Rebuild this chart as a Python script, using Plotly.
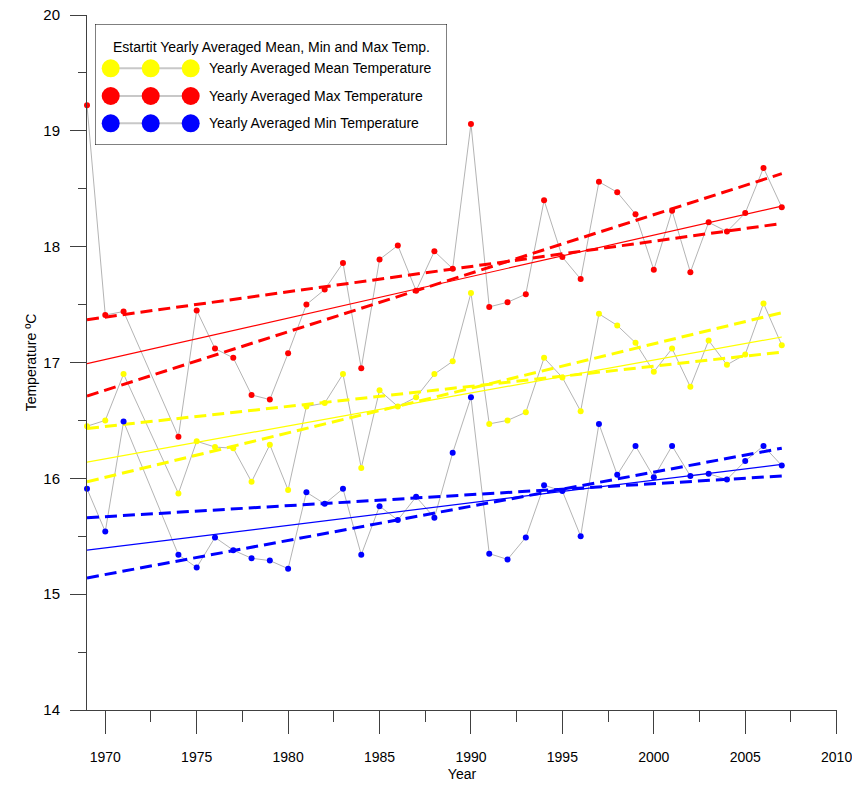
import plotly.graph_objects as go

# ---------------- data ----------------
years = [1969, 1970, 1971, 1974, 1975, 1976, 1977, 1978, 1979, 1980,
         1981, 1982, 1983, 1984, 1985, 1986, 1987, 1988, 1989, 1990,
         1991, 1992, 1993, 1994, 1995, 1996, 1997, 1998, 1999, 2000,
         2001, 2002, 2003, 2004, 2005, 2006, 2007]

mean_temp = [16.45, 16.50, 16.90, 15.87, 16.32, 16.27, 16.26, 15.97, 16.29, 15.90,
             16.62, 16.65, 16.90, 16.09, 16.76, 16.62, 16.70, 16.90, 17.01, 17.60,
             16.47, 16.50, 16.57, 17.04, 16.87, 16.58, 17.42, 17.32, 17.17, 16.92,
             17.12, 16.79, 17.19, 16.98, 17.07, 17.51, 17.15]

max_temp = [19.22, 17.41, 17.44, 16.36, 17.45, 17.12, 17.04, 16.72, 16.68, 17.08,
            17.50, 17.63, 17.86, 16.95, 17.89, 18.01, 17.62, 17.96, 17.81, 19.06,
            17.48, 17.52, 17.59, 18.40, 17.91, 17.72, 18.56, 18.47, 18.28, 17.80,
            18.31, 17.78, 18.21, 18.13, 18.29, 18.68, 18.34]

min_temp = [15.91, 15.54, 16.49, 15.34, 15.23, 15.49, 15.38, 15.31, 15.29, 15.22,
            15.88, 15.78, 15.91, 15.34, 15.76, 15.64, 15.84, 15.66, 16.22, 16.70,
            15.35, 15.30, 15.49, 15.94, 15.89, 15.50, 16.47, 16.03, 16.28, 16.01,
            16.28, 16.02, 16.04, 15.99, 16.15, 16.28, 16.11]

# trend lines (value at first and last year)
fit_years = [1969, 2007]
mean_fit = [16.14, 17.22]
mean_fit_a = [16.43, 17.09]
mean_fit_b = [15.97, 17.43]
max_fit = [16.99, 18.35]
max_fit_a = [17.37, 18.20]
max_fit_b = [16.71, 18.63]
min_fit = [15.38, 16.12]
min_fit_a = [15.66, 16.02]
min_fit_b = [15.14, 16.26]

legend_title = "Estartit Yearly Averaged Mean, Min and Max Temp."
series_names = ["Yearly Averaged Mean Temperature",
                "Yearly Averaged Max Temperature",
                "Yearly Averaged Min Temperature"]
series_colors = ["#FFFF00", "#FF0000", "#0000FF"]

x_ticks = [1970, 1975, 1980, 1985, 1990, 1995, 2000, 2005, 2010]
y_ticks = [14, 15, 16, 17, 18, 19, 20]

# ---------------- figure ----------------
FONT = "Liberation Sans, Arial, sans-serif"
FS = 14
GREY = "#b4b4b4"
AXIS = "#404040"

fig = go.Figure()

series = [(mean_temp, mean_fit, mean_fit_a, mean_fit_b),
          (max_temp, max_fit, max_fit_a, max_fit_b),
          (min_temp, min_fit, min_fit_a, min_fit_b)]

# grey connecting lines
for vals, *_ in series:
    fig.add_trace(go.Scatter(x=years, y=vals, mode="lines",
                             line=dict(color=GREY, width=1),
                             showlegend=False, hoverinfo="skip"))

# trend lines
for (vals, fit, fa, fb), col in zip(series, series_colors):
    fig.add_trace(go.Scatter(x=fit_years, y=fit, mode="lines",
                             line=dict(color=col, width=1.2), showlegend=False))
    for f in (fa, fb):
        fig.add_trace(go.Scatter(x=fit_years, y=f, mode="lines",
                                 line=dict(color=col, width=3, dash="12px,6px"),
                                 showlegend=False))

# markers
for (vals, *_), col, name in zip(series, series_colors, series_names):
    fig.add_trace(go.Scatter(x=years, y=vals, mode="markers", name=name,
                             marker=dict(color=col, size=6, line=dict(width=0)),
                             cliponaxis=False, showlegend=False))

# ---------------- custom legend (on its own hidden axes) ----------------
leg_sample_x = [15.7, 55.7, 95.7]
leg_rows = [44.3, 72.0, 99.3]
for name, col, ry in zip(series_names, series_colors, leg_rows):
    fig.add_trace(go.Scatter(x=leg_sample_x, y=[ry] * 3, mode="lines+markers",
                             xaxis="x2", yaxis="y2",
                             line=dict(color="#c8c8c8", width=2),
                             marker=dict(color=col, size=18, line=dict(width=0)),
                             showlegend=False, hoverinfo="skip"))
    fig.add_annotation(x=111.5, y=ry, xref="x2", yref="y2", text=name,
                       showarrow=False, xanchor="left", yanchor="middle",
                       font=dict(family=FONT, size=FS, color="black"))
fig.add_annotation(x=176, y=22.7, xref="x2", yref="y2", text=legend_title,
                   showarrow=False, xanchor="center", yanchor="middle",
                   font=dict(family=FONT, size=FS, color="black"))
fig.add_shape(type="rect", xref="x2", yref="y2", x0=0, x1=352, y0=0, y1=121,
              line=dict(color="black", width=1), fillcolor="rgba(0,0,0,0)")

fig.update_layout(
    width=852, height=786,
    margin=dict(l=87, r=15, t=15, b=76, autoexpand=False),
    paper_bgcolor="white", plot_bgcolor="white",
    font=dict(family=FONT, size=FS, color="black"),
    showlegend=False,
    xaxis=dict(
        range=[1969, 2010.02], tickvals=x_ticks, ticktext=[str(v) for v in x_ticks],
        ticks="outside", ticklen=23, tickwidth=1, tickcolor=AXIS,
        showline=True, linecolor=AXIS, linewidth=1, mirror=False,
        showgrid=False, zeroline=False, automargin=False,
        ticklabeloverflow="allow",
        minor=dict(dtick=2.5, tick0=1970, ticks="outside", ticklen=11,
                   tickcolor=AXIS, tickwidth=1, showgrid=False),
        tickfont=dict(family=FONT, size=FS, color="black"),
        ticklabelstandoff=11,
        title=dict(text="Year", standoff=5,
                   font=dict(family=FONT, size=FS, color="black")),
    ),
    yaxis=dict(
        range=[14, 20], tickvals=y_ticks, ticktext=[str(v) for v in y_ticks],
        ticks="outside", ticklen=16, tickwidth=1, tickcolor=AXIS,
        showline=True, linecolor=AXIS, linewidth=1, mirror=False,
        showgrid=False, zeroline=False, automargin=False,
        minor=dict(dtick=0.5, tick0=14, ticks="outside", ticklen=8,
                   tickcolor=AXIS, tickwidth=1, showgrid=False),
        tickfont=dict(family=FONT, size=FS + 1, color="black"),
        ticklabelstandoff=7,
        title=dict(text="Temperature ºC", standoff=3,
                   font=dict(family=FONT, size=FS, color="black")),
    ),
    xaxis2=dict(domain=[(95 - 87) / 750, (447 - 87) / 750], range=[0, 352],
                visible=False, anchor="y2", fixedrange=True),
    yaxis2=dict(domain=[(710 - 145) / 695, (710 - 24) / 695], range=[121, 0],
                visible=False, anchor="x2", fixedrange=True),
)

fig.write_html("out.html")
